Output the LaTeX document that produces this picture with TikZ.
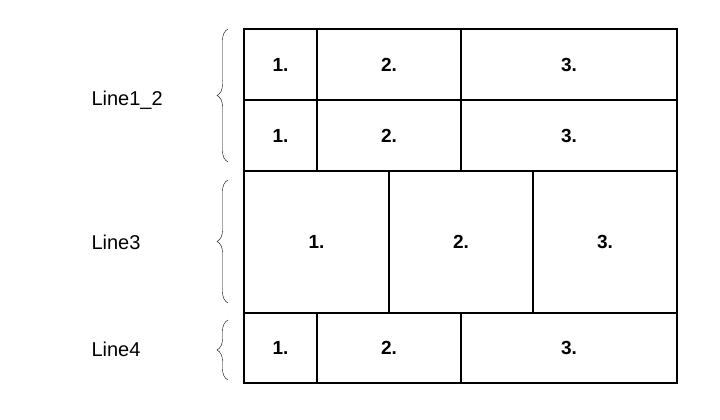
\documentclass[tikz,border=0pt]{standalone}
\usepackage{fontspec}
\setmainfont{Liberation Sans}
\usetikzlibrary{decorations.pathreplacing}
\tikzset{
  cell/.style={draw, line width=2.4pt, inner sep=0pt, font=\fontsize{19}{22}\selectfont\bfseries},
  brc/.style={decorate, decoration={brace, amplitude=11pt}, thin},
  lbl/.style={font=\fontsize{20}{24}\selectfont}
}
\begin{document}
\begin{tikzpicture}[x=1pt,y=-1pt]
    \useasboundingbox (0,0) rectangle (720,420);

    % rows with three cells each
    \foreach \yt/\yb/\n in {29/100/a, 100/171/b, 313/383/d} {
        \node[cell, minimum width=73pt, minimum height=\yb pt-\yt pt] (\n1) at (280.5,{(\yt+\yb)/2}) {1.};
        \node[cell, minimum width=144pt, minimum height=\yb pt-\yt pt] (\n2) at (389,{(\yt+\yb)/2}) {2.};
        \node[cell, minimum width=216pt, minimum height=\yb pt-\yt pt] (\n3) at (569,{(\yt+\yb)/2}) {3.};
    }
    \node[cell, minimum width=145pt, minimum height=142pt] (c1) at (316.5,242) {1.};
    \node[cell, minimum width=144pt, minimum height=142pt] (c2) at (461,242) {2.};
    \node[cell, minimum width=144pt, minimum height=142pt] (c3) at (605,242) {3.};

    % braces and labels
    \draw[brc] (228,162) -- (228,29);
    \draw[brc] (228,303) -- (228,180);
    \draw[brc] (228,380) -- (228,320);
    \node[lbl, anchor=west] (l12) at (88,100) {Line1\_2};
    \node[lbl, anchor=west] (l3) at (88,242) {Line3};
    \node[lbl, anchor=west] (l4) at (88,349) {Line4};
\end{tikzpicture}
\end{document}
